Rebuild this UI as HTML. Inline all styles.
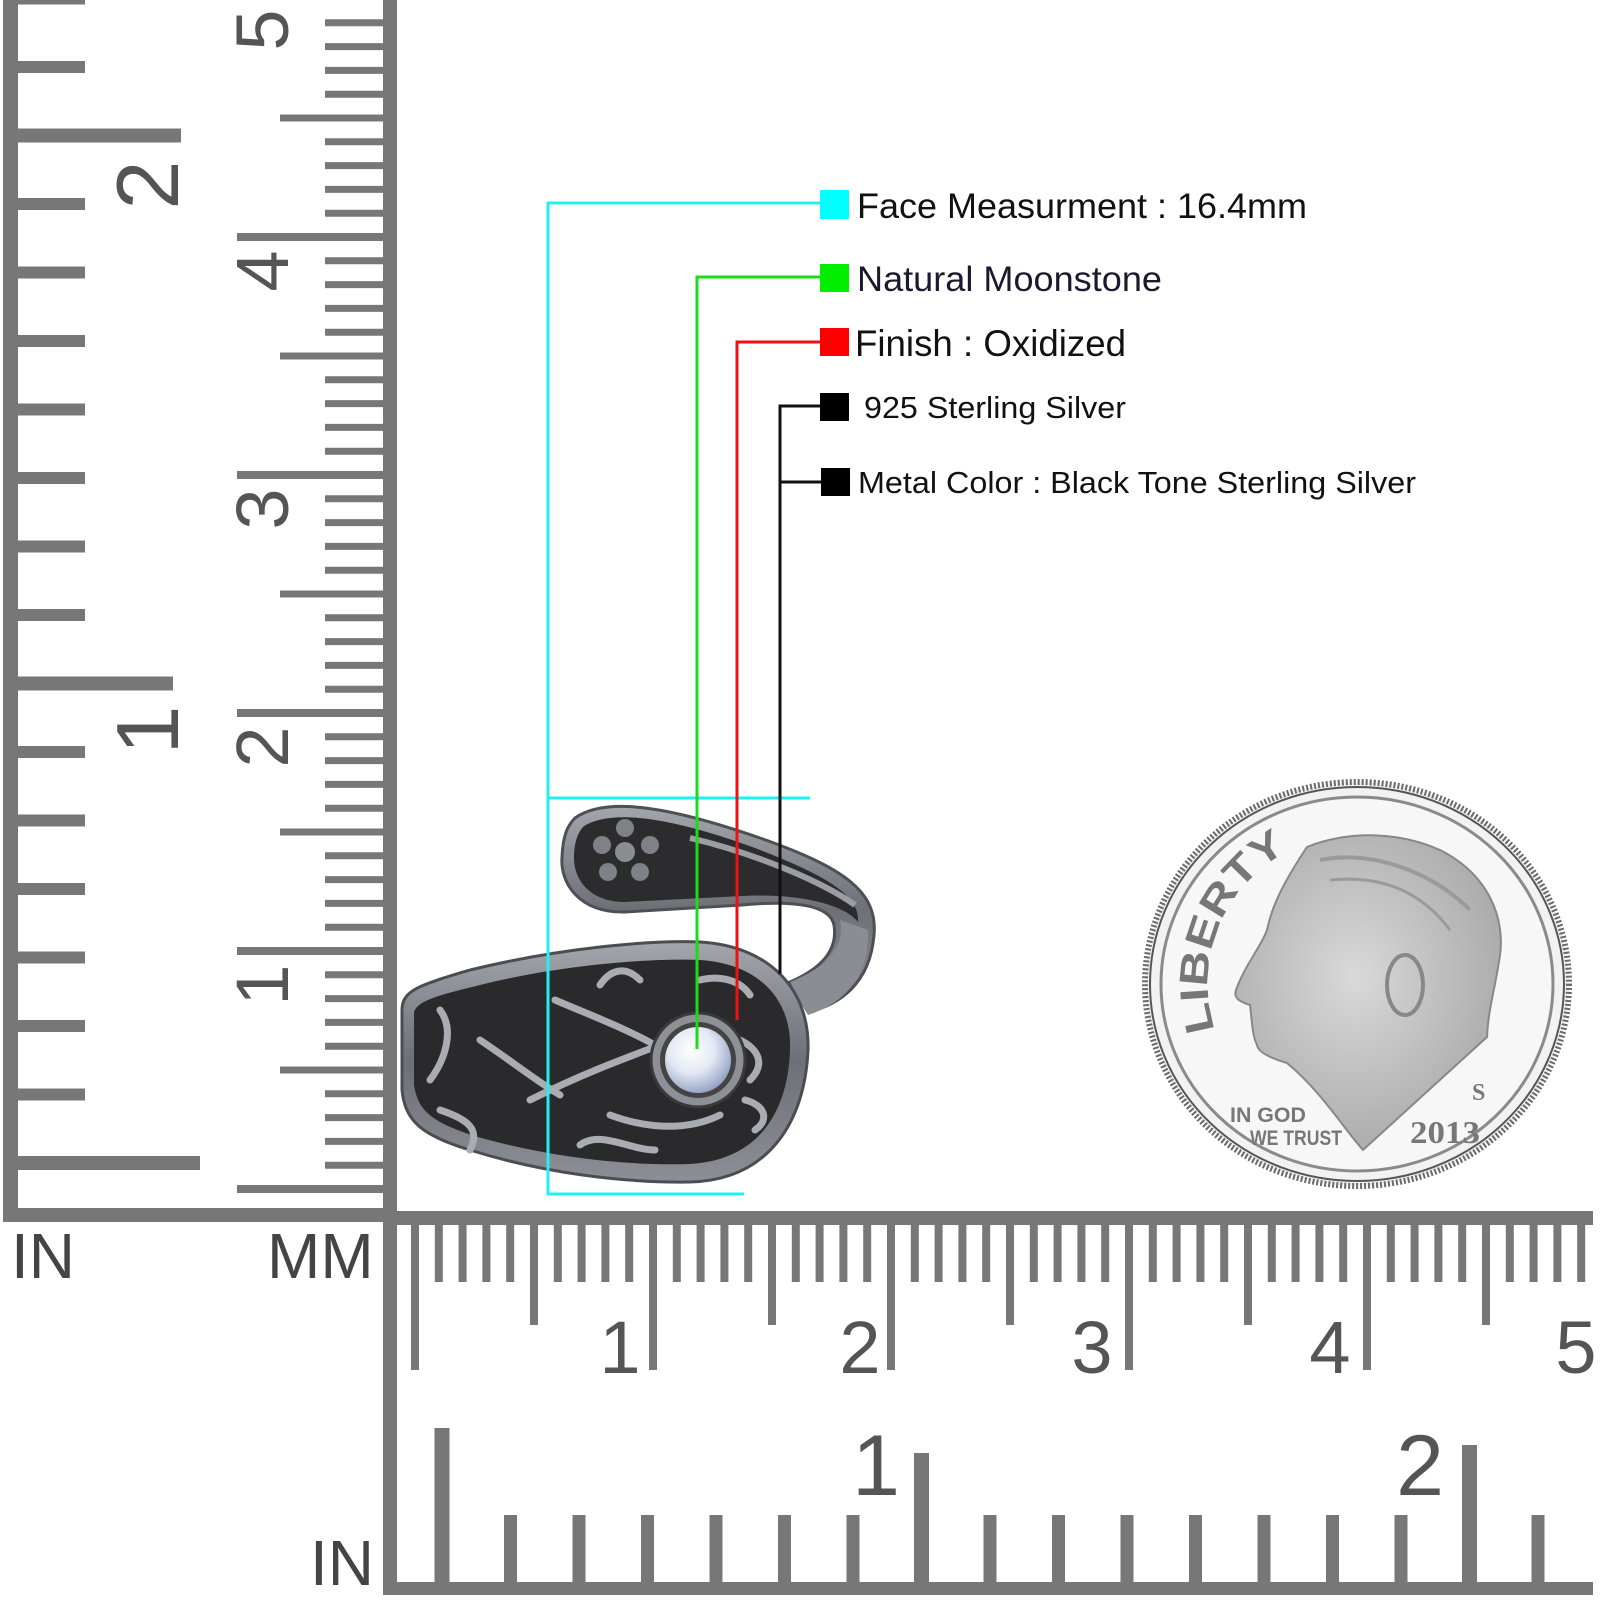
<!DOCTYPE html>
<html><head><meta charset="utf-8"><style>html,body{margin:0;padding:0;background:#fff}svg{display:block}</style></head>
<body>
<svg width="1600" height="1600" viewBox="0 0 1600 1600" xmlns="http://www.w3.org/2000/svg">
<defs>
<radialGradient id="stone" cx="40%" cy="35%" r="70%"><stop offset="0" stop-color="#ffffff"/><stop offset="0.5" stop-color="#e3e8f4"/><stop offset="1" stop-color="#8e9cc0"/></radialGradient>
<linearGradient id="metal" x1="0" y1="0" x2="0" y2="1"><stop offset="0" stop-color="#a3a6ac"/><stop offset="0.5" stop-color="#6d7076"/><stop offset="1" stop-color="#8c8f95"/></linearGradient>
<radialGradient id="face" cx="45%" cy="45%" r="60%"><stop offset="0" stop-color="#d9d9d9"/><stop offset="1" stop-color="#a9a9a9"/></radialGradient>
<path id="libarc" d="M1215 1030 A150 150 0 0 1 1296 847"/>
</defs>
<rect width="1600" height="1600" fill="#fff"/>

<!-- LEFT RULER -->
<g fill="#777">
<rect x="3" y="0" width="15" height="1222"/>
<rect x="3" y="1208" width="394" height="14"/>
<rect x="383" y="0" width="14" height="1595"/>
<rect x="383" y="1211" width="1210" height="14"/>
<rect x="383" y="1582" width="1210" height="13"/>
</g>
<g stroke="#777" fill="none">
<!-- left inch ticks -->
<path stroke-width="12" d="M17 1094.5H85M17 1026H85M17 957.5H85M17 889H85M17 820.5H85M17 752H85M17 615H85M17 546.5H85M17 478H85M17 409.5H85M17 341H85M17 272.5H85M17 204H85M17 67H85M17 -1.5H85"/>
<path stroke-width="14" d="M17 1163H200M17 683.5H173M17 135.5H181"/>
<!-- left mm ticks -->
<path stroke-width="7" d="M325 1165.2H384M325 1141.4H384M325 1117.6H384M325 1093.8H384M325 1046.2H384M325 1022.4H384M325 998.6H384M325 974.8H384M325 927.2H384M325 903.4H384M325 879.6H384M325 855.8H384M325 808.2H384M325 784.4H384M325 760.6H384M325 736.8H384M325 689.2H384M325 665.4H384M325 641.6H384M325 617.8H384M325 570.2H384M325 546.4H384M325 522.6H384M325 498.8H384M325 451.2H384M325 427.4H384M325 403.6H384M325 379.8H384M325 332.2H384M325 308.4H384M325 284.6H384M325 260.8H384M325 213.2H384M325 189.4H384M325 165.6H384M325 141.8H384M325 94.2H384M325 70.4H384M325 46.6H384M325 22.8H384"/>
<path stroke-width="7" d="M280 1070H384M280 832H384M280 594H384M280 356H384M280 118H384"/>
<path stroke-width="8" d="M237 1189H384M237 951H384M237 713H384M237 475H384M237 237H384"/>
<!-- bottom mm ticks -->
<path stroke-width="8" d="M438.8 1224V1282M462.6 1224V1282M486.4 1224V1282M510.2 1224V1282M557.8 1224V1282M581.6 1224V1282M605.4 1224V1282M629.2 1224V1282M676.8 1224V1282M700.6 1224V1282M724.4 1224V1282M748.2 1224V1282M795.8 1224V1282M819.6 1224V1282M843.4 1224V1282M867.2 1224V1282M914.8 1224V1282M938.6 1224V1282M962.4 1224V1282M986.2 1224V1282M1033.8 1224V1282M1057.6 1224V1282M1081.4 1224V1282M1105.2 1224V1282M1152.8 1224V1282M1176.6 1224V1282M1200.4 1224V1282M1224.2 1224V1282M1271.8 1224V1282M1295.6 1224V1282M1319.4 1224V1282M1343.2 1224V1282M1390.8 1224V1282M1414.6 1224V1282M1438.4 1224V1282M1462.2 1224V1282M1509.8 1224V1282M1533.6 1224V1282M1557.4 1224V1282M1581.2 1224V1282"/>
<path stroke-width="8" d="M534 1224V1325M772 1224V1325M1010 1224V1325M1248 1224V1325M1486 1224V1325"/>
<path stroke-width="8" d="M415 1224V1370M653 1224V1370M891 1224V1370M1129 1224V1370M1367 1224V1370"/>
<!-- bottom inch ticks -->
<path stroke-width="13" d="M510.5 1515V1584M579 1515V1584M647.5 1515V1584M716 1515V1584M784.5 1515V1584M853 1515V1584M990 1515V1584M1058.5 1515V1584M1127 1515V1584M1195.5 1515V1584M1264 1515V1584M1332.5 1515V1584M1401 1515V1584M1538 1515V1584"/>
<path stroke-width="15" d="M442 1428V1584M921.5 1453V1584M1469.5 1445V1584"/>
</g>
<g fill="#555" font-family="'Liberation Sans', sans-serif" text-anchor="middle">
<text x="0" y="0" font-size="88" transform="translate(178 185) rotate(-90)">2</text>
<text x="0" y="0" font-size="88" transform="translate(178 730) rotate(-90)">1</text>
<g font-size="74">
<text transform="translate(288 30) rotate(-90)">5</text>
<text transform="translate(288 271) rotate(-90)">4</text>
<text transform="translate(288 509) rotate(-90)">3</text>
<text transform="translate(288 747) rotate(-90)">2</text>
<text transform="translate(288 985) rotate(-90)">1</text>
<text x="620" y="1373">1</text>
<text x="860" y="1373">2</text>
<text x="1092" y="1373">3</text>
<text x="1330" y="1373">4</text>
<text x="1576" y="1373">5</text>
</g>
<text x="876" y="1495" font-size="86">1</text>
<text x="1420" y="1495" font-size="86">2</text>
</g>
<g fill="#444" font-family="'Liberation Sans', sans-serif" font-size="64">
<text x="11" y="1278">IN</text>
<text x="267" y="1278">MM</text>
<text x="310" y="1585">IN</text>
</g>

<!-- RING -->
<g>
<!-- upper band -->
<path d="M575 818 C605 797 665 805 760 838 C845 868 878 892 874 935 C870 985 838 1005 808 1012 L790 982 C822 968 838 950 834 925 C830 905 795 900 742 905 L625 912 C578 913 560 882 562 857 C563 836 567 826 575 818 Z" fill="url(#metal)" stroke="#4d5055" stroke-width="3"/>
<path d="M584 826 C610 810 665 815 755 848 C825 875 860 895 858 922 C845 905 800 893 742 896 L625 902 C590 902 574 880 574 858 C574 842 578 832 584 826 Z" fill="#2c2c2e"/>
<path d="M690 838 C750 852 820 880 855 905" stroke="#9a9da2" stroke-width="6" fill="none"/>
<circle cx="625" cy="852" r="10" fill="#8a8d92"/>
<g fill="#7e8187"><circle cx="625" cy="828" r="9"/><circle cx="650" cy="845" r="9"/><circle cx="640" cy="872" r="9"/><circle cx="608" cy="872" r="9"/><circle cx="602" cy="845" r="9"/></g>
<!-- back shank -->
<path d="M790 982 C830 966 845 945 840 920 L868 930 C870 980 840 1005 808 1015 Z" fill="#8a8d93"/>
<!-- main face -->
<path d="M402 1010 C402 990 420 985 470 970 C560 948 650 940 700 942 C770 946 810 990 808 1050 C805 1120 770 1180 690 1182 C620 1183 540 1172 470 1150 C420 1135 405 1120 402 1090 Z" fill="url(#metal)" stroke="#4a4d52" stroke-width="3"/>
<path d="M414 1012 C418 1000 440 995 480 985 C560 965 650 958 700 960 C760 964 792 1000 790 1050 C788 1110 760 1160 690 1164 C620 1166 545 1156 478 1137 C430 1122 418 1110 414 1085 Z" fill="#2a2a2c"/>
<g stroke="#a9acb2" stroke-width="7" fill="none" stroke-linecap="round">
<path d="M555 1000 C590 1015 630 1030 660 1048"/>
<path d="M530 1100 C580 1075 620 1060 660 1045"/>
<path d="M480 1040 C510 1060 535 1080 560 1095"/>
<path d="M610 1115 C650 1130 690 1130 720 1115"/>
<path d="M440 1010 C455 1030 445 1060 430 1080"/>
<path d="M440 1110 C470 1120 480 1130 470 1150"/>
<path d="M740 1040 C760 1050 765 1065 750 1080"/>
<path d="M745 1100 C765 1105 770 1120 755 1130"/>
<path d="M700 980 C720 975 740 980 750 995"/>
<path d="M640 980 C625 965 610 970 600 985"/>
<path d="M580 1145 C600 1130 630 1150 655 1150"/>
</g>
<circle cx="698" cy="1060" r="47" fill="#8d9095" stroke="#3a3a3c" stroke-width="3"/>
<circle cx="698" cy="1060" r="38" fill="#444"/>
<circle cx="698" cy="1060" r="33" fill="url(#stone)"/>
</g>

<!-- CONNECTORS -->
<g fill="none" stroke-width="3">
<path d="M823 203H548V1194H744M548 798H810" stroke="#1ff0f0"/>
<path d="M823 277H697V1049" stroke="#19dd19"/>
<path d="M823 342H737V1020" stroke="#ee1111"/>
<path d="M823 406H780V974M780 482H823" stroke="#111"/>
</g>
<rect x="820" y="190" width="29" height="29" fill="#00ffff"/>
<rect x="820" y="264" width="29" height="28" fill="#00ee00"/>
<rect x="820" y="328" width="29" height="28" fill="#ff0000"/>
<rect x="820" y="393" width="29" height="28" fill="#000"/>
<rect x="821" y="468" width="29" height="28" fill="#000"/>
<g font-family="'Liberation Sans', sans-serif">
<text x="857" y="218" font-size="35" fill="#111" textLength="450" lengthAdjust="spacingAndGlyphs">Face Measurment : 16.4mm</text>
<text x="857" y="291" font-size="35" fill="#1a1a2e" textLength="305" lengthAdjust="spacingAndGlyphs">Natural Moonstone</text>
<text x="855" y="356" font-size="37" fill="#111" textLength="271" lengthAdjust="spacingAndGlyphs">Finish : Oxidized</text>
<text x="864" y="418" font-size="31" fill="#111" textLength="262" lengthAdjust="spacingAndGlyphs">925 Sterling Silver</text>
<text x="858" y="493" font-size="31" fill="#111" textLength="558" lengthAdjust="spacingAndGlyphs">Metal Color : Black Tone Sterling Silver</text>
</g>

<!-- COIN -->
<g>
<ellipse cx="1357" cy="984" rx="212" ry="202" fill="#f2f2f2" stroke="#6a6a6a" stroke-width="6" stroke-dasharray="2 2"/>
<ellipse cx="1357" cy="984" rx="207" ry="197" fill="none" stroke="#555" stroke-width="2"/>
<ellipse cx="1357" cy="984" rx="196" ry="187" fill="#f7f7f7" stroke="#8a8a8a" stroke-width="3"/>
<path d="M1307 847 C1350 830 1400 832 1440 850 C1490 875 1505 920 1500 955 C1495 990 1488 1010 1487 1037 L1363 1150 C1345 1130 1320 1090 1287 1063 C1270 1058 1258 1052 1257 1045 C1252 1035 1252 1020 1250 1005 C1240 1002 1233 998 1236 990 C1245 965 1262 945 1267 930 C1272 905 1285 880 1307 847 Z" fill="url(#face)" stroke="#888" stroke-width="2"/>
<path d="M1320 860 C1370 850 1430 870 1470 910" stroke="#9a9a9a" stroke-width="4" fill="none"/>
<path d="M1330 880 C1380 875 1420 890 1450 930" stroke="#9a9a9a" stroke-width="3" fill="none"/>
<ellipse cx="1405" cy="985" rx="18" ry="30" fill="none" stroke="#888" stroke-width="4"/>
<g font-family="'Liberation Sans', sans-serif" font-weight="bold" fill="#777">
<text font-size="40" textLength="210" lengthAdjust="spacingAndGlyphs"><textPath href="#libarc">LIBERTY</textPath></text>
<text x="1230" y="1122" font-size="21" textLength="76" lengthAdjust="spacingAndGlyphs">IN GOD</text>
<text x="1250" y="1145" font-size="21" textLength="92" lengthAdjust="spacingAndGlyphs">WE TRUST</text>
<text x="1472" y="1100" font-size="24" font-family="'Liberation Serif', serif">S</text>
<text x="1410" y="1143" font-size="32" font-family="'Liberation Serif', serif" textLength="70" lengthAdjust="spacingAndGlyphs">2013</text>
</g>
</g>
</svg>
</body></html>
